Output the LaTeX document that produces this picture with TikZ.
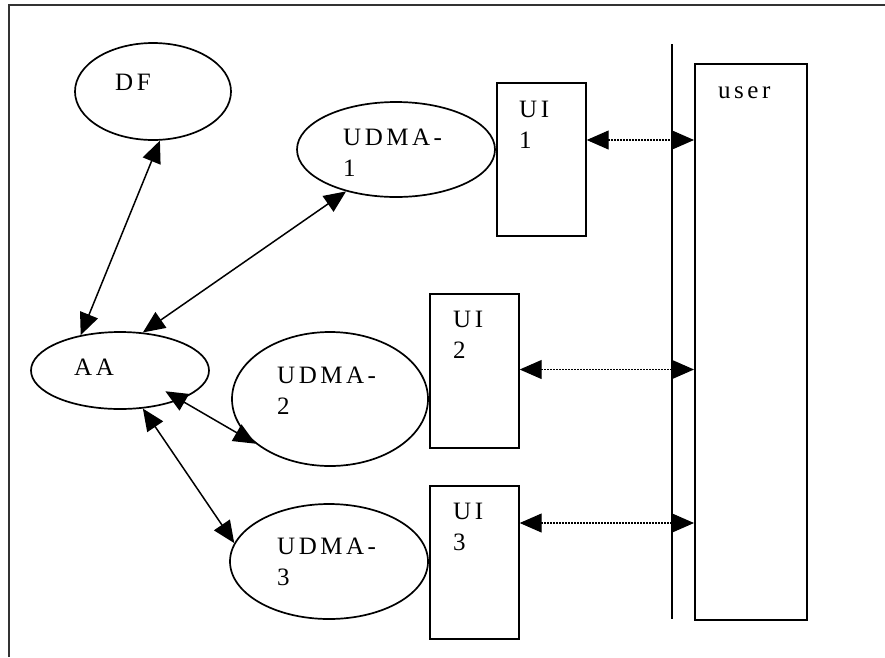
\documentclass[tikz,border=0pt]{standalone}
\usepackage{fontspec}
\setmainfont[LetterSpace=14]{Liberation Serif}
\usetikzlibrary{shapes.geometric,arrows.meta}
\begin{document}
\begin{tikzpicture}[x=1pt,y=-1pt,
  every node/.style={font=\fontsize{25}{31}\selectfont},
  oval/.style={draw,ellipse,line width=1.7pt,inner sep=0pt},
  uibox/.style={draw,rectangle,line width=1.7pt,inner sep=0pt,minimum width=89pt,minimum height=153pt},
  lbl/.style={anchor=base west,align=left,inner sep=0pt},
  link/.style={line width=1.5pt,{Triangle[length=22pt,width=19pt]}-{Triangle[length=22pt,width=19pt]}},
  dotlink/.style={line width=1.1pt,dash pattern=on 1.3pt off 1.7pt,{Triangle[length=22pt,width=19pt]}-{Triangle[length=22pt,width=19pt]}},
  frameline/.style={line width=1.8pt,black!80},
  barline/.style={line width=1.7pt}
]
\useasboundingbox (0,0) rectangle (885,657);
\draw[frameline] (9,657) -- (9,5) -- (885,5);

% ellipses
\node[oval,minimum width=156pt,minimum height=97pt] (df) at (153,91.5) {};
\node[oval,minimum width=198pt,minimum height=95pt] (u1) at (396,149.5) {};
\node[oval,minimum width=178pt,minimum height=77pt] (aa) at (120,370.5) {};
\node[oval,minimum width=196pt,minimum height=134pt] (u2) at (330,399) {};
\node[oval,minimum width=198pt,minimum height=115pt] (u3) at (329,561.5) {};

% boxes
\node[uibox,anchor=north west] (ui1) at (496,82) {};
\node[uibox,anchor=north west,minimum height=154pt] (ui2) at (429,293) {};
\node[uibox,anchor=north west] (ui3) at (429,485) {};
\node[draw,rectangle,line width=1.7pt,inner sep=0pt,anchor=north west,minimum width=112pt,minimum height=556pt] (user) at (694,63) {};

% vertical bar
\draw[barline] (672,44) -- (672,619);

% labels (base = baseline of last line)
\node[lbl] (tdf) at (115,90) {DF};
\node[lbl] (tu1) at (343,176) {UDMA-\\1};
\node[lbl] (taa) at (74,375) {AA};
\node[lbl] (tu2) at (277,414) {UDMA-\\2};
\node[lbl] (tu3) at (277,585) {UDMA-\\3};
\node[lbl] (tui1) at (519,148) {UI\\1};
\node[lbl] (tui2) at (453,358) {UI\\2};
\node[lbl] (tui3) at (453,550) {UI\\3};
\node[lbl] (tuser) at (718,98) {user};

% solid connectors
\draw[link] (df.-82) -- (aa.138);
\draw[link] (u1.-140) -- (aa.59);
\draw[link,shorten <=-17pt] (aa.-26) -- (u2.-149);
\draw[link] (aa.-59) -- (u3.169);

% dotted connectors
\coordinate (p1) at ([yshift=-58pt]ui1.north east);
\coordinate (p2) at ([yshift=-76.5pt]ui2.north east);
\coordinate (p3) at ([yshift=-38pt]ui3.north east);
\draw[dotlink] (p1) -- (p1 -| user.west);
\draw[dotlink] (p2) -- (p2 -| user.west);
\draw[dotlink] (p3) -- (p3 -| user.west);
\end{tikzpicture}
\end{document}
